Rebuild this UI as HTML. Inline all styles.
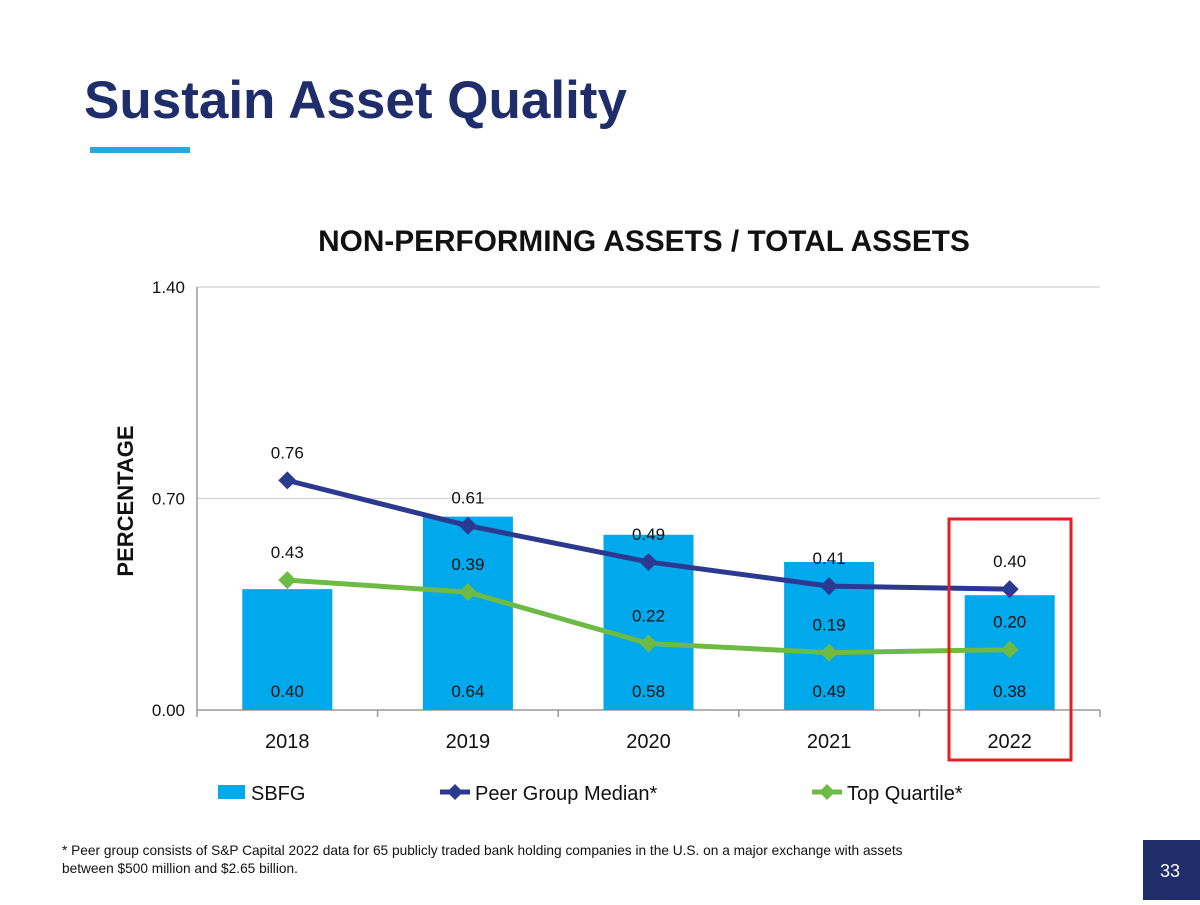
<!DOCTYPE html>
<html><head><meta charset="utf-8"><style>
body{margin:0;background:#fff;}
svg text{font-family:"Liberation Sans",Arial,sans-serif;}
</style></head><body>
<svg width="1200" height="900" viewBox="0 0 1200 900" xmlns="http://www.w3.org/2000/svg">
<text x="84" y="118" font-size="53" font-weight="bold" fill="#1f2d6b">Sustain Asset Quality</text>
<rect x="90" y="147" width="100" height="6" fill="#29a8e0"/>
<text x="644" y="251" font-size="29.8" font-weight="bold" fill="#111" text-anchor="middle">NON-PERFORMING ASSETS / TOTAL ASSETS</text>
<text transform="translate(133,501) rotate(-90)" font-size="22" font-weight="bold" fill="#111" text-anchor="middle">PERCENTAGE</text>
<g id="chart"></g>
<rect x="949" y="519" width="122" height="241" fill="none" stroke="#e31e24" stroke-width="3"/>
<g>
<rect x="218" y="785" width="27" height="14" fill="#00a8ec"/>
<text x="251" y="800" font-size="20" fill="#111">SBFG</text>
<line x1="440" y1="792" x2="470" y2="792" stroke="#2b3990" stroke-width="5"/>
<path d="M455 784 L463 792 L455 800 L447 792Z" fill="#2b3990"/>
<text x="475" y="800" font-size="20" fill="#111">Peer Group Median*</text>
<line x1="812" y1="792" x2="842" y2="792" stroke="#6dbb45" stroke-width="5"/>
<path d="M827 784 L835 792 L827 800 L819 792Z" fill="#6dbb45"/>
<text x="847" y="800" font-size="20" fill="#111">Top Quartile*</text>
</g>
<text x="62" y="855" font-size="13.7" fill="#111">* Peer group consists of S&amp;P Capital 2022 data for 65 publicly traded bank holding companies in the U.S. on a major exchange with assets</text>
<text x="62" y="873" font-size="13.7" fill="#111">between $500 million and $2.65 billion.</text>
<rect x="1143" y="840" width="57" height="60" fill="#1f2d6b"/>
<text x="1170" y="877" font-size="18" fill="#fff" text-anchor="middle">33</text>
</svg>
<script>
const categories=["2018","2019","2020","2021","2022"];
const sbfg=[0.40,0.64,0.58,0.49,0.38];
const peer=[0.76,0.61,0.49,0.41,0.40];
const topq=[0.43,0.39,0.22,0.19,0.20];
const yTicks=[0,0.7,1.4];
const NS="http://www.w3.org/2000/svg";
const g=document.getElementById('chart');
const X0=197,X1=1100,Y0=710,Y1=287,YMAX=1.4;
const bw=(X1-X0)/categories.length;
const xc=i=>X0+bw*(i+0.5);
const y=v=>Y0-(v/YMAX)*(Y0-Y1);
function mk(t,a){const e=document.createElementNS(NS,t);for(const k in a)e.setAttribute(k,a[k]);g.appendChild(e);return e;}
yTicks.forEach(v=>{
 if(v>0){const l=mk('line',{x1:X0,x2:X1,y1:y(v),y2:y(v),stroke:'#d9d9d9','stroke-width':1.5});
 
 }
 const t=mk('text',{x:X0-12,y:y(v)+6,'font-size':17,'text-anchor':'end',fill:'#111'});t.textContent=v.toFixed(2);
 
 
});
const ya=mk('line',{x1:X0,x2:X0,y1:Y1,y2:Y0,stroke:'#999','stroke-width':1.5});


const xa=mk('line',{x1:X0,x2:X1,y1:Y0,y2:Y0,stroke:'#999','stroke-width':1.5});


for(let i=0;i<=categories.length;i++){mk('line',{x1:X0+bw*i,x2:X0+bw*i,y1:Y0,y2:Y0+7,stroke:'#999','stroke-width':1.5});}
categories.forEach((c,i)=>{
 const b=mk('rect',{x:xc(i)-45,y:y(sbfg[i]),width:90,height:Y0-y(sbfg[i]),fill:'#00a8ec'});
 
 
 const t=mk('text',{x:xc(i),y:Y0-13,'font-size':17,'text-anchor':'middle',fill:'#111'});t.textContent=sbfg[i].toFixed(2);
 
 
 const xl=mk('text',{x:xc(i),y:Y0+38,'font-size':20,'text-anchor':'middle',fill:'#111'});xl.textContent=c;
 
 
});
function series(vals,color,name){
 const p=mk('polyline',{points:vals.map((v,i)=>xc(i)+','+y(v)).join(' '),fill:'none',stroke:color,'stroke-width':5,'stroke-linejoin':'round'});
 
 
 vals.forEach((v,i)=>{
  const m=mk('path',{d:`M${xc(i)} ${y(v)-9} L${xc(i)+9} ${y(v)} L${xc(i)} ${y(v)+9} L${xc(i)-9} ${y(v)}Z`,fill:color});
  
  
  const t=mk('text',{x:xc(i),y:y(v)-22,'font-size':17,'text-anchor':'middle',fill:'#111'});t.textContent=v.toFixed(2);
  
  
 });
}
series(peer,'#2b3990','peer-median');
series(topq,'#6dbb45','top-quartile');
</script>
</body></html>
